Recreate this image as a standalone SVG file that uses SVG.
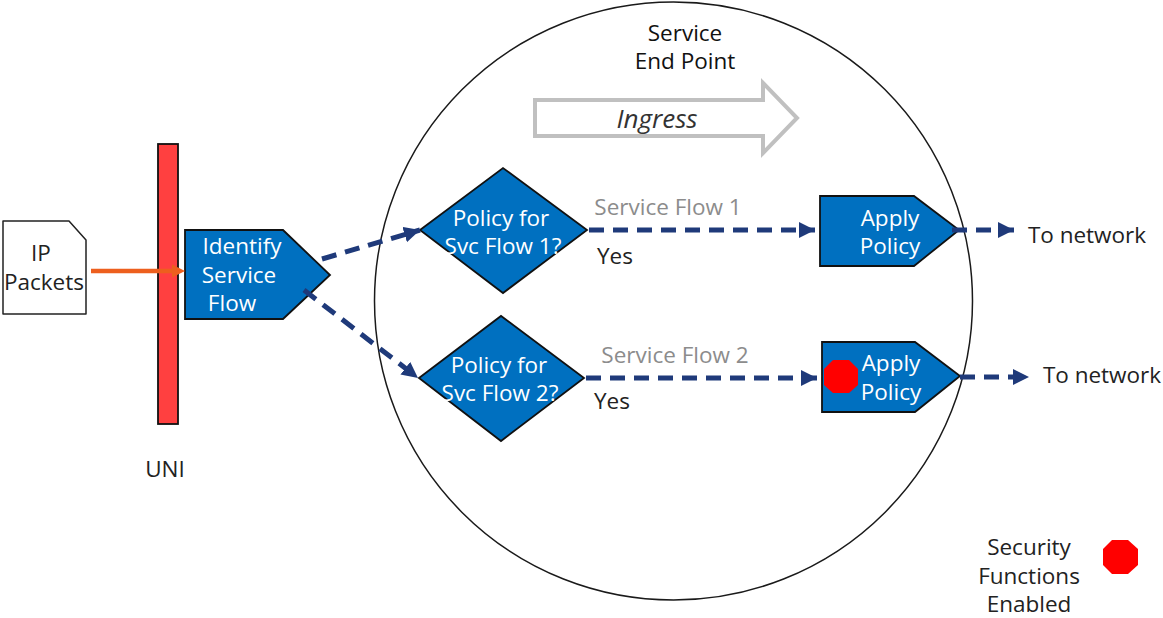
<svg xmlns="http://www.w3.org/2000/svg" width="1163" height="618" viewBox="0 0 1163 618">
<style>
text{font-family:"Open Sans","Noto Sans","Liberation Sans",sans-serif;font-size:22.500px;fill:#222;text-anchor:middle}
.w{fill:#fff}
.g{fill:#8c8c8c}
.b{fill:#0070c0;stroke:#111;stroke-width:1.8;stroke-linejoin:miter}
.d{fill:none;stroke:#1f3a7a;stroke-width:5;stroke-dasharray:15 9;marker-end:url(#ah)}
</style>
<defs>
<marker id="ah" markerUnits="userSpaceOnUse" markerWidth="20" markerHeight="20" refX="16" refY="8" orient="auto"><path d="M0 0L16 8L0 16Z" fill="#1f3a7a"/></marker>
</defs>
<g id="service-end-point"><circle cx="673.500" cy="301" r="299" fill="none" stroke="#1a1a1a" stroke-width="1.500"/>
<text x="685" y="41" style="fill:#111">Service</text><text x="685" y="69" style="fill:#111">End Point</text></g>
<g id="ingress"><path d="M535 100H763V83L797 118L763 153V136H535Z" fill="#fff" stroke="#c0c0c0" stroke-width="4"/>
<text x="657" y="128" font-style="italic" style="font-size:26px;fill:#333">Ingress</text></g>
<g id="uni"><rect x="158" y="144" width="20" height="280" fill="#ff4040" stroke="#111" stroke-width="1.800"/><text x="165" y="477">UNI</text></g>
<g id="ip-packets"><path d="M3 221H69L86 240V314H3Z" fill="#fff" stroke="#222" stroke-width="1.500" stroke-linejoin="round"/>
<text x="41" y="261">IP</text><text x="44" y="290">Packets</text></g>
<g id="identify"><path class="b" d="M185 230H283L330 275L283 319H185Z"/>
<text class="w" x="242" y="254">Identify</text><text class="w" x="239" y="283">Service</text><text class="w" x="232" y="311">Flow</text></g>
<g id="policy-1"><path class="b" d="M420 230L503 168L587 230L503 293Z"/>
<text class="w" x="501" y="226">Policy for</text><text class="w" x="503" y="254">Svc Flow 1?</text></g>
<g id="policy-2"><path class="b" d="M419 378L501 316L584 378L501 441Z"/>
<text class="w" x="499" y="373">Policy for</text><text class="w" x="500" y="401">Svc Flow 2?</text></g>
<g id="apply-1"><path class="b" d="M820 196H914L959 230L914 266H820Z"/>
<text class="w" x="890" y="226">Apply</text><text class="w" x="890" y="254">Policy</text></g>
<g id="apply-2"><path class="b" d="M822 342H915L960 376L915 412H822Z"/>
<text class="w" x="891" y="371">Apply</text><text class="w" x="891" y="400">Policy</text>
<path d="M833 360H849L858 369V385L849 393H833L824 385V369Z" fill="#f00"/></g>
<g id="connectors">
<path d="M91 271H175" fill="none" stroke="#ed5f1e" stroke-width="4.500"/>
<path d="M172 264.500L185 271L172 277.500Z" fill="#ed5f1e"/>
<path class="d" d="M322 259L420 230"/>
<path class="d" d="M304 290L418 378"/>
<path class="d" d="M589 230H815"/>
<path class="d" d="M586 378H817"/>
<path class="d" d="M952 230H1014"/>
<path class="d" d="M960 377H1029"/>
</g>
<g id="labels">
<text class="g" x="668" y="215">Service Flow 1</text>
<text class="g" x="675" y="363">Service Flow 2</text>
<text x="615" y="264">Yes</text><text x="612" y="409">Yes</text>
<text x="1087" y="243">To network</text><text x="1102" y="383">To network</text>
</g>
<g id="legend"><text x="1029" y="555">Security</text><text x="1029" y="584">Functions</text><text x="1029" y="612">Enabled</text>
<path d="M1112 540H1128L1138 549V565L1128 574H1112L1103 565V549Z" fill="#f00"/></g>
</svg>
